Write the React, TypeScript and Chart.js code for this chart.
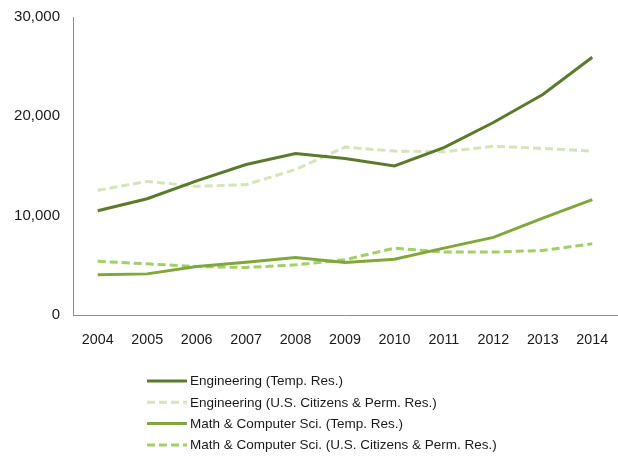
import React, { useEffect, useRef } from "react";
import { Chart, registerables } from "chart.js";

Chart.register(...registerables);

const years = ["2004", "2005", "2006", "2007", "2008", "2009", "2010", "2011", "2012", "2013", "2014"];
const engTemp = [10500, 11700, 13500, 15150, 16250, 15750, 15000, 16850, 19380, 22200, 25950];
const engUS = [12550, 13450, 12950, 13120, 14650, 16900, 16500, 16430, 16980, 16770, 16500];
const mathTemp = [4040, 4140, 4880, 5320, 5790, 5290, 5620, 6730, 7810, 9760, 11620];
const mathUS = [5400, 5150, 4880, 4780, 5050, 5560, 6730, 6330, 6330, 6500, 7170];
const seriesNames = [
  "Engineering (Temp. Res.)",
  "Engineering (U.S. Citizens & Perm. Res.)",
  "Math & Computer Sci. (Temp. Res.)",
  "Math & Computer Sci. (U.S. Citizens & Perm. Res.)",
];
const yTicks = [0, 10000, 20000, 30000];

const FONT = "'Liberation Sans', Arial, sans-serif";

const verticalLegend = {
  id: "verticalLegend",
  afterDraw(chart: any) {
    const ctx = chart.ctx;
    ctx.save();
    const x0 = 147;
    const lineLen = 40;
    const textX = 190;
    const y0 = 381;
    const step = 21.3;
    chart.data.datasets.forEach((ds: any, i: number) => {
      const y = y0 + i * step;
      ctx.strokeStyle = ds.borderColor;
      ctx.lineWidth = 3;
      ctx.setLineDash(ds.borderDash || []);
      ctx.beginPath();
      ctx.moveTo(x0, y);
      ctx.lineTo(x0 + lineLen, y);
      ctx.stroke();
      ctx.setLineDash([]);
      ctx.fillStyle = "#1a1a1a";
      ctx.font = `13.5px ${FONT}`;
      ctx.textBaseline = "middle";
      ctx.textAlign = "left";
      ctx.fillText(ds.label, textX, y + 0.5);
    });
    ctx.restore();
  },
};

export default function App() {
  const ref = useRef<HTMLCanvasElement | null>(null);
  useEffect(() => {
    document.body.style.margin = "0";
    if (!ref.current) return;
    const mk = (label: string, data: number[], color: string, dash?: number[]) => ({
      label,
      data,
      borderColor: color,
      backgroundColor: color,
      borderWidth: 3,
      borderDash: dash,
      pointRadius: 0,
      tension: 0,
      fill: false,
    });
    const chart = new Chart(ref.current, {
      type: "line",
      data: {
        labels: years,
        datasets: [
          mk(seriesNames[0], engTemp, "#5b7a2b"),
          mk(seriesNames[1], engUS, "#d5e4b9", [8, 4]),
          mk(seriesNames[2], mathTemp, "#80a73b"),
          mk(seriesNames[3], mathUS, "#a3cf68", [8, 4]),
        ],
      },
      options: {
        responsive: false,
        animation: false,
        layout: { padding: { left: 0, top: 17, right: 1, bottom: 101 } },
        plugins: { legend: { display: false }, tooltip: { enabled: false } },
        scales: {
          x: {
            offset: true,
            grid: { display: false, drawTicks: true, tickLength: 16 },
            border: { display: true, color: "#8c8c8c", width: 1 },
            ticks: { color: "#1a1a1a", font: { family: FONT, size: 14.3 }, padding: 0, maxRotation: 0 },
            afterFit: (s: any) => { s.height = 40; },
          },
          y: {
            min: 0,
            max: 30000,
            afterBuildTicks: (s: any) => { s.ticks = yTicks.map((v) => ({ value: v })); },
            grid: { display: false, drawTicks: true, tickLength: 13 },
            border: { display: true, color: "#8c8c8c", width: 1 },
            ticks: {
              color: "#1a1a1a",
              font: { family: FONT, size: 15 },
              padding: 0,
              callback: (v: any) => Number(v).toLocaleString("en-US"),
            },
            afterFit: (s: any) => { s.width = 73; },
          },
        },
      },
      plugins: [verticalLegend],
    });
    return () => chart.destroy();
  }, []);
  return (
    <div style={{ position: "fixed", left: 0, top: 0, width: 618, height: 456, background: "#fff" }}>
      <canvas ref={ref} width={618} height={456} />
    </div>
  );
}
